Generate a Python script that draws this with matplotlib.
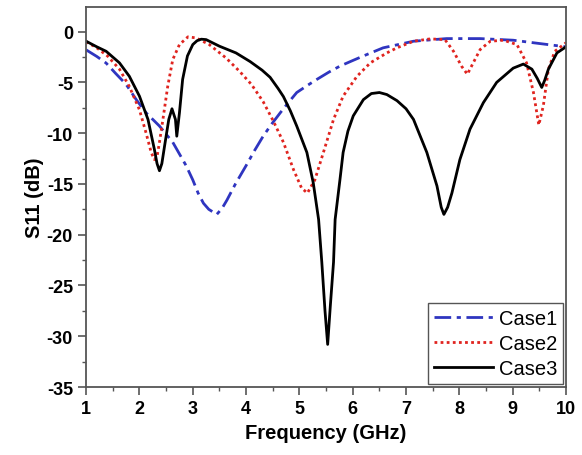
import matplotlib
matplotlib.use("Agg")
import matplotlib.pyplot as plt
from matplotlib.ticker import MultipleLocator

plt.rcParams["font.family"] = ["Liberation Sans", "DejaVu Sans"]
plt.rcParams["axes.unicode_minus"] = False

# Case1: blue dash-dot
case1_f = [1.0, 1.2, 1.375, 1.55, 1.75, 1.94, 2.125, 2.375, 2.625, 2.875, 3.0, 3.1, 3.2, 3.3, 3.45,
           3.55, 3.64, 3.8, 4.0, 4.16, 4.32, 4.48, 4.64, 4.8, 4.95, 5.15, 5.33, 5.55, 5.76, 6.0,
           6.2, 6.57, 7.14, 7.76, 8.39, 9.01, 9.51, 10.0]
case1_s = [-1.8, -2.45, -3.1, -4.1, -5.2, -6.7, -8.0, -9.3, -10.9, -13.2, -14.6, -15.9, -16.9, -17.5, -18.0,
           -17.4, -16.6, -15.0, -13.2, -11.7, -10.3, -9.1, -8.0, -6.95, -6.0, -5.3, -4.7, -4.0, -3.4, -2.85,
           -2.4, -1.6, -0.95, -0.69, -0.69, -0.85, -1.18, -1.5]

# Case2: red dotted
case2_f = [1.0, 1.2, 1.4, 1.625, 1.81, 2.0, 2.125, 2.22, 2.28, 2.33, 2.375, 2.44, 2.53, 2.625, 2.75,
           2.91, 3.06, 3.31, 3.625, 3.875, 4.1, 4.32, 4.51, 4.7, 4.89, 5.04, 5.15, 5.29, 5.45,
           5.64, 5.82, 6.08, 6.33, 6.64, 6.83, 7.14, 7.45, 7.73, 7.89, 8.04, 8.15, 8.26, 8.39,
           8.58, 8.83, 9.08, 9.26, 9.39, 9.49, 9.575, 9.67, 9.79, 10.0]
case2_s = [-1.0, -1.6, -2.4, -3.7, -5.4, -7.7, -10.0, -11.9, -12.6, -12.3, -10.9, -8.65, -5.4, -2.75, -1.28,
           -0.52, -0.62, -1.28, -2.6, -3.9, -5.2, -6.9, -8.8, -10.9, -13.6, -15.4, -15.9, -14.6, -11.9,
           -8.65, -6.36, -4.4, -3.08, -2.1, -1.6, -0.95, -0.72, -0.79, -1.94, -3.4, -4.2, -3.08, -1.77,
           -0.95, -0.85, -1.28, -3.08, -6.0, -9.2, -7.3, -3.7, -1.94, -1.1]

# Case3: black solid
case3_f = [1.0, 1.2, 1.375, 1.625, 1.81, 2.0, 2.16, 2.28, 2.33, 2.375, 2.42, 2.47, 2.55, 2.61, 2.675,
           2.70, 2.75, 2.81, 2.9, 3.0, 3.08, 3.16, 3.25, 3.5, 3.81, 4.075, 4.3, 4.45, 4.6, 4.7,
           4.83, 4.95, 5.14, 5.26, 5.36, 5.42, 5.48, 5.53, 5.58, 5.64, 5.67, 5.76, 5.82, 5.91,
           6.01, 6.2, 6.35, 6.5, 6.64, 6.83, 7.0, 7.14, 7.39, 7.58, 7.66, 7.71, 7.78, 7.86,
           8.01, 8.2, 8.45, 8.7, 9.01, 9.2, 9.36, 9.46, 9.545, 9.6, 9.67, 9.83, 10.0]
case3_s = [-0.95, -1.5, -1.94, -3.08, -4.4, -6.36, -8.65, -11.6, -13.0, -13.7, -13.0, -11.3, -8.65, -7.6, -8.65,
           -10.3, -8.0, -4.7, -2.4, -1.28, -0.9, -0.75, -0.79, -1.44, -2.1, -2.95, -3.8, -4.5, -5.6, -6.4,
           -7.8, -9.3, -11.9, -14.9, -18.5, -22.7, -27.5, -30.8, -27.0, -22.7, -18.5, -14.6, -11.9, -9.8,
           -8.3, -6.7, -6.1, -6.0, -6.2, -6.8, -7.6, -8.65, -11.9, -15.2, -17.3, -18.0, -17.3, -15.9,
           -12.6, -9.6, -7.0, -5.0, -3.6, -3.2, -3.7, -4.6, -5.5, -4.8, -3.7, -2.1, -1.5]

fig = plt.figure(figsize=(5.82, 4.56), dpi=100)
ax = fig.add_axes([0.148, 0.149, 0.8245, 0.833])

ax.plot(case1_f, case1_s, color="#2f35c0", linestyle=(0, (6, 2, 1.5, 2)), linewidth=2.0, label="Case1")
ax.plot(case2_f, case2_s, color="#e0241f", linestyle=(0, (1, 1.2)), linewidth=2.0, label="Case2")
ax.plot(case3_f, case3_s, color="black", linestyle="-", linewidth=2.0, label="Case3")

ax.set_xlim(1, 10)
ax.set_ylim(-35, 2.4)
ax.xaxis.set_major_locator(MultipleLocator(1))
ax.xaxis.set_minor_locator(MultipleLocator(0.5))
ax.yaxis.set_major_locator(MultipleLocator(5))
ax.yaxis.set_minor_locator(MultipleLocator(2.5))
ax.tick_params(which="both", direction="out", top=False, right=False, color="#555555")
ax.tick_params(which="major", length=6, width=1.2, labelsize=13)
ax.tick_params(which="minor", length=3, width=1.0)
for lab in ax.get_xticklabels() + ax.get_yticklabels():
    lab.set_fontweight("bold")
for sp in ax.spines.values():
    sp.set_color("#555555")
    sp.set_linewidth(1.3)

ax.set_xlabel("Frequency (GHz)", fontsize=14.5, fontweight="bold", labelpad=4)
ax.set_ylabel("S11 (dB)", fontsize=14.5, fontweight="bold", labelpad=2)

leg = ax.legend(loc="lower right", fontsize=14.5, handlelength=2.9, handletextpad=0.3,
                borderpad=0.3, labelspacing=0.3, fancybox=False, framealpha=1,
                borderaxespad=0.15)
leg.get_frame().set_edgecolor("#555555")
leg.get_frame().set_linewidth(1.0)

fig.savefig("out.png", dpi=100)
